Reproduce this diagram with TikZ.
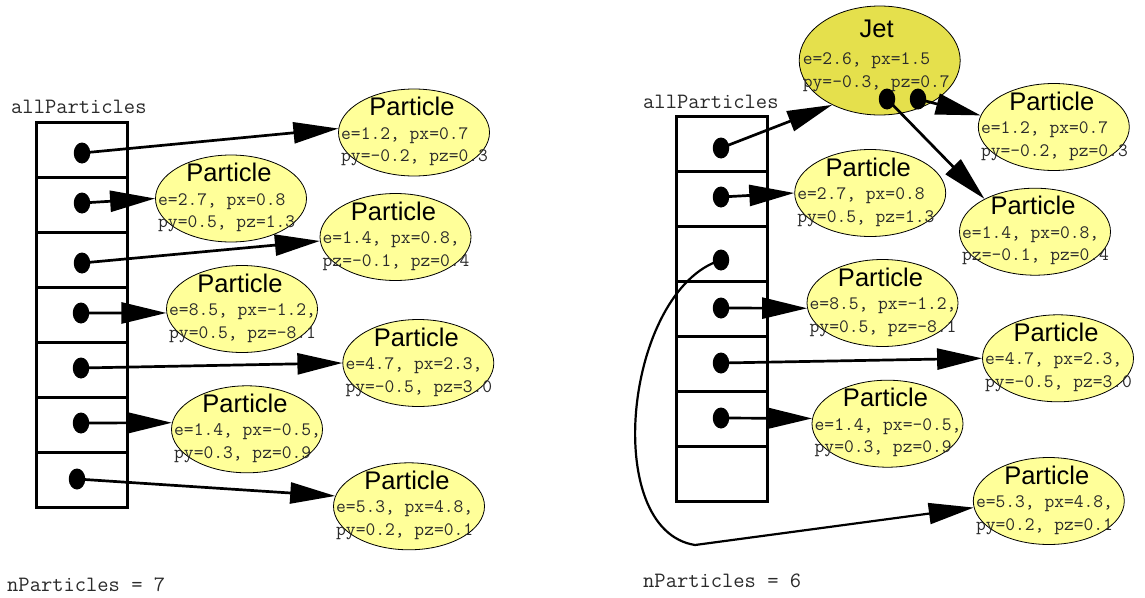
\documentclass[tikz,border=0pt]{standalone}
\usepackage{fontspec}
\setmainfont{Liberation Sans}
\usetikzlibrary{shapes.geometric,arrows.meta,calc}

\definecolor{partfill}{HTML}{FFFF99}
\definecolor{jetfill}{HTML}{E5E04C}
\definecolor{codegray}{HTML}{2A2A2A}

\tikzset{
  cell/.style={draw, line width=3pt, minimum width=91pt, minimum height=55pt, inner sep=0pt},
  dot/.style={ellipse, fill=black, minimum width=16.5pt, minimum height=21pt, inner sep=0pt},
  ell/.style={ellipse, draw, line width=0.8pt, minimum width=151pt, minimum height=87pt, inner sep=0pt},
  pfill/.style={fill=partfill},
  jfill/.style={fill=jetfill},
  ttl/.style={anchor=base, inner sep=0pt, font=\fontsize{25.5}{28}\selectfont},
  dat/.style={anchor=base west, inner sep=0pt, text=codegray, font=\ttfamily\fontsize{19}{22}\selectfont},
  lbl/.style={anchor=base west, inner sep=0pt, text=codegray, font=\ttfamily\fontsize{21.9}{25}\selectfont},
  ptr/.style={line width=2.7pt, -{Triangle[length=45pt,width=21pt]}},
}

% an object drawn as an ellipse with a title and two lines of values
\newcommand\objnode[6]{%
  \node[ell,#6] (#1) at (#2) {};
  \node[ttl] (#1-t) at ($(#1.center)+(-2,-17)$) {#3};
  \node[dat] (#1-a) at ($(#1.center)+(-73,6.5)$) {#4};
  \node[dat] (#1-b) at ($(#1.center)+(-73,29)$) {#5};
}

\begin{document}
\begin{tikzpicture}[x=1pt, y=-1pt]
\useasboundingbox (0,0) rectangle (1145,597);

% ---------------- left: seven particles ----------------
\node[lbl] (lname) at (11,113) {allParticles};
\foreach \k in {0,...,6} {
  \node[cell] (lc\k) at (81.5,{149.5+55*\k}) {};
}
\node[dot] (l1) at (82,153) {};
\node[dot] (l2) at (82,203) {};
\node[dot] (l3) at (82,263) {};
\node[dot] (l4) at (81,313) {};
\node[dot] (l5) at (81,368) {};
\node[dot] (l6) at (81,423) {};
\node[dot] (l7) at (77,479) {};

\objnode{la}{414,132.5}{Particle}{e=1.2, px=0.7}{py=-0.2, pz=0.3}{pfill}
\objnode{lb}{231,198.5}{Particle}{e=2.7, px=0.8}{py=0.5, pz=1.3}{pfill}
\objnode{lc}{395.5,237}{Particle}{e=1.4, px=0.8,}{pz=-0.1, pz=0.4}{pfill}
\objnode{ld}{242,309}{Particle}{e=8.5, px=-1.2,}{py=0.5, pz=-8.1}{pfill}
\objnode{le}{418.3,363}{Particle}{e=4.7, px=2.3,}{py=-0.5, pz=3.0}{pfill}
\objnode{lf}{247,429.3}{Particle}{e=1.4, px=-0.5,}{py=0.3, pz=0.9}{pfill}
\objnode{lg}{409,506.3}{Particle}{e=5.3, px=4.8,}{py=0.2, pz=0.1}{pfill}

\node[lbl] (lcount) at (7,591) {nParticles = 7};

\draw[ptr] (l1.center) -- (la.177);
\draw[ptr] (l2.center) -- (lb.west);
\draw[ptr] (l3.center) -- (lc.183);
\draw[ptr] (l4.center) -- (ld.183);
\draw[ptr] (l5.center) -- (le.west);
\draw[ptr] (l6.center) -- (lf.175);
\draw[ptr] (l7.center) -- (lg.172);

% ---------------- right: a jet and six particles ----------------
\node[lbl] (rname) at (643,108) {allParticles};
\foreach \k in {0,...,6} {
  \node[cell] (rc\k) at (721.5,{144.2+55*\k}) {};
}
\node[dot] (r1) at (721,148) {};
\node[dot] (r2) at (721,197) {};
\node[dot] (r3) at (721,260) {};
\node[dot] (r4) at (721,308) {};
\node[dot] (r5) at (721,363) {};
\node[dot] (r6) at (721,418) {};

\node[ell, jfill, minimum width=161pt, minimum height=109pt] (jet) at (879.7,60.5) {};
\node[ttl] (jet-t) at ($(jet.center)+(-3,-23)$) {Jet};
\node[dat] (jet-a) at ($(jet.center)+(-77,3.5)$) {e=2.6, px=1.5};
\node[dat] (jet-b) at ($(jet.center)+(-77,27)$) {py=-0.3, pz=0.7};
\node[dot] (j1) at (887,99) {};
\node[dot] (j2) at (918,99) {};

\objnode{ra}{1053.8,127}{Particle}{e=1.2, px=0.7}{py=-0.2, pz=0.3}{pfill}
\objnode{rb}{870.2,193}{Particle}{e=2.7, px=0.8}{py=0.5, pz=1.3}{pfill}
\objnode{rc}{1035,231.7}{Particle}{e=1.4, px=0.8,}{pz=-0.1, pz=0.4}{pfill}
\objnode{rd}{882.5,303}{Particle}{e=8.5, px=-1.2,}{py=0.5, pz=-8.1}{pfill}
\objnode{re}{1058,358.3}{Particle}{e=4.7, px=2.3,}{py=-0.5, pz=3.0}{pfill}
\objnode{rf}{887.5,423.7}{Particle}{e=1.4, px=-0.5,}{py=0.3, pz=0.9}{pfill}
\objnode{rg}{1048.8,501}{Particle}{e=5.3, px=4.8,}{py=0.2, pz=0.1}{pfill}

\node[lbl] (rcount) at (643,587) {nParticles = 6};

\coordinate (loop) at (695,545);
\draw[ptr] (r1.center) -- (jet.223);
\draw[ptr] (r2.center) -- (rb.west);
\draw[ptr, line width=2.2pt] (r3.center) .. controls (625,290) and (600,530) .. (loop) -- (rg.185);
\draw[ptr] (r4.center) -- (rd.184);
\draw[ptr] (r5.center) -- (re.west);
\draw[ptr] (r6.center) -- (rf.176);
\draw[ptr] (j2.center) -- (ra.171);
\draw[ptr] (j1.center) -- (rc.147);
\end{tikzpicture}
\end{document}
